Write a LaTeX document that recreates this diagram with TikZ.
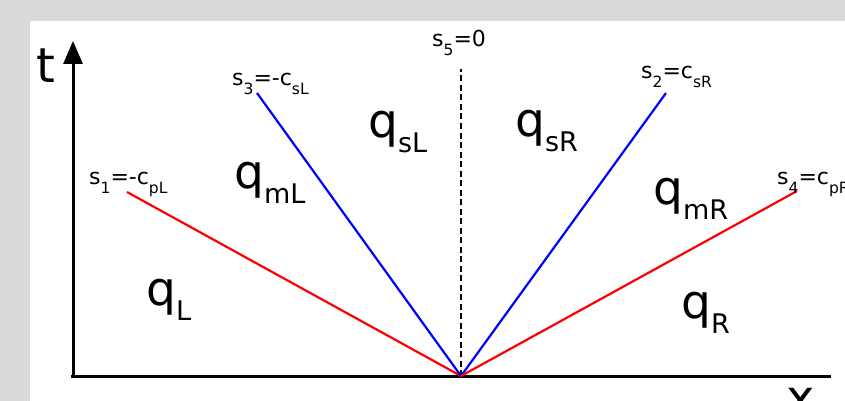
\documentclass[tikz,border=0pt]{standalone}
\usepackage{fontspec}
\setmainfont{DejaVu Sans}
\usetikzlibrary{arrows.meta}
\definecolor{bggray}{HTML}{D9DADC}
\newcommand{\lsub}[1]{\raisebox{-9pt}{\fontsize{15.5}{15.5}\selectfont #1}}
\newcommand{\bsub}[1]{\raisebox{-15pt}{\fontsize{27}{27}\selectfont #1}}
\newcommand{\slab}[1]{\fontsize{22}{22}\selectfont #1}
\newcommand{\qlab}[2]{\fontsize{47}{47}\selectfont #1\bsub{#2}}
\begin{document}
\begin{tikzpicture}[x=1pt,y=-1pt,
  lbl/.style={inner sep=0pt,anchor=base west},
  axisline/.style={line width=3pt,black},
  fanred/.style={line width=2.2pt,red},
  fanblue/.style={line width=2.2pt,blue},
  fandash/.style={line width=2pt,black,dash pattern=on 6pt off 3.5pt}]
\useasboundingbox (0,0) rectangle (845,401);
\fill[bggray] (0,0) rectangle (845,401);
\fill[white] (30,21) rectangle (845,401);
% coordinates
\coordinate (O) at (461,376);
\coordinate (taxbot) at (73,377);
\coordinate (taxtop) at (73,41);
\coordinate (xaxl) at (71,376);
\coordinate (xaxr) at (831,376);
\coordinate (p1) at (127,192);
\coordinate (p3) at (257,93);
\coordinate (p5) at (461,69);
\coordinate (p2) at (666,93);
\coordinate (p4) at (797,191);
% axes
\draw[axisline] (xaxl) -- (xaxr);
\draw[axisline,-{Triangle[length=23pt,width=19pt]}] (taxbot) -- (taxtop);
\node[lbl] (tlab) at (36,83) {\fontsize{48}{48}\selectfont t};
\node[lbl] (xlab) at (786,414) {\fontsize{48}{48}\selectfont x};
% fan
\draw[fanred] (O) -- (p1);
\draw[fanblue] (O) -- (p3);
\draw[fandash] (O) -- (p5);
\draw[fanblue] (O) -- (p2);
\draw[fanred] (O) -- (p4);
% wave labels
\node[lbl] (s1) at (89,184) {\slab{s\lsub{1}=-c\lsub{pL}}};
\node[lbl] (s3) at (232,86) {\slab{s\lsub{3}=-c\lsub{sL}}};
\node[lbl] (s5) at (432,47) {\slab{s\lsub{5}=0}};
\node[lbl] (s2) at (641,79) {\slab{s\lsub{2}=c\lsub{sR}}};
\node[lbl] (s4) at (777,184) {\slab{s\lsub{4}=c\lsub{pR}}};
% states
\node[lbl] (qL) at (146,305) {\qlab{q}{L}};
\node[lbl] (qmL) at (234,188) {\qlab{q}{mL}};
\node[lbl] (qsL) at (368,137) {\qlab{q}{sL}};
\node[lbl] (qsR) at (515,136) {\qlab{q}{sR}};
\node[lbl] (qmR) at (653,204) {\qlab{q}{mR}};
\node[lbl] (qR) at (681,318) {\qlab{q}{R}};
\end{tikzpicture}
\end{document}
